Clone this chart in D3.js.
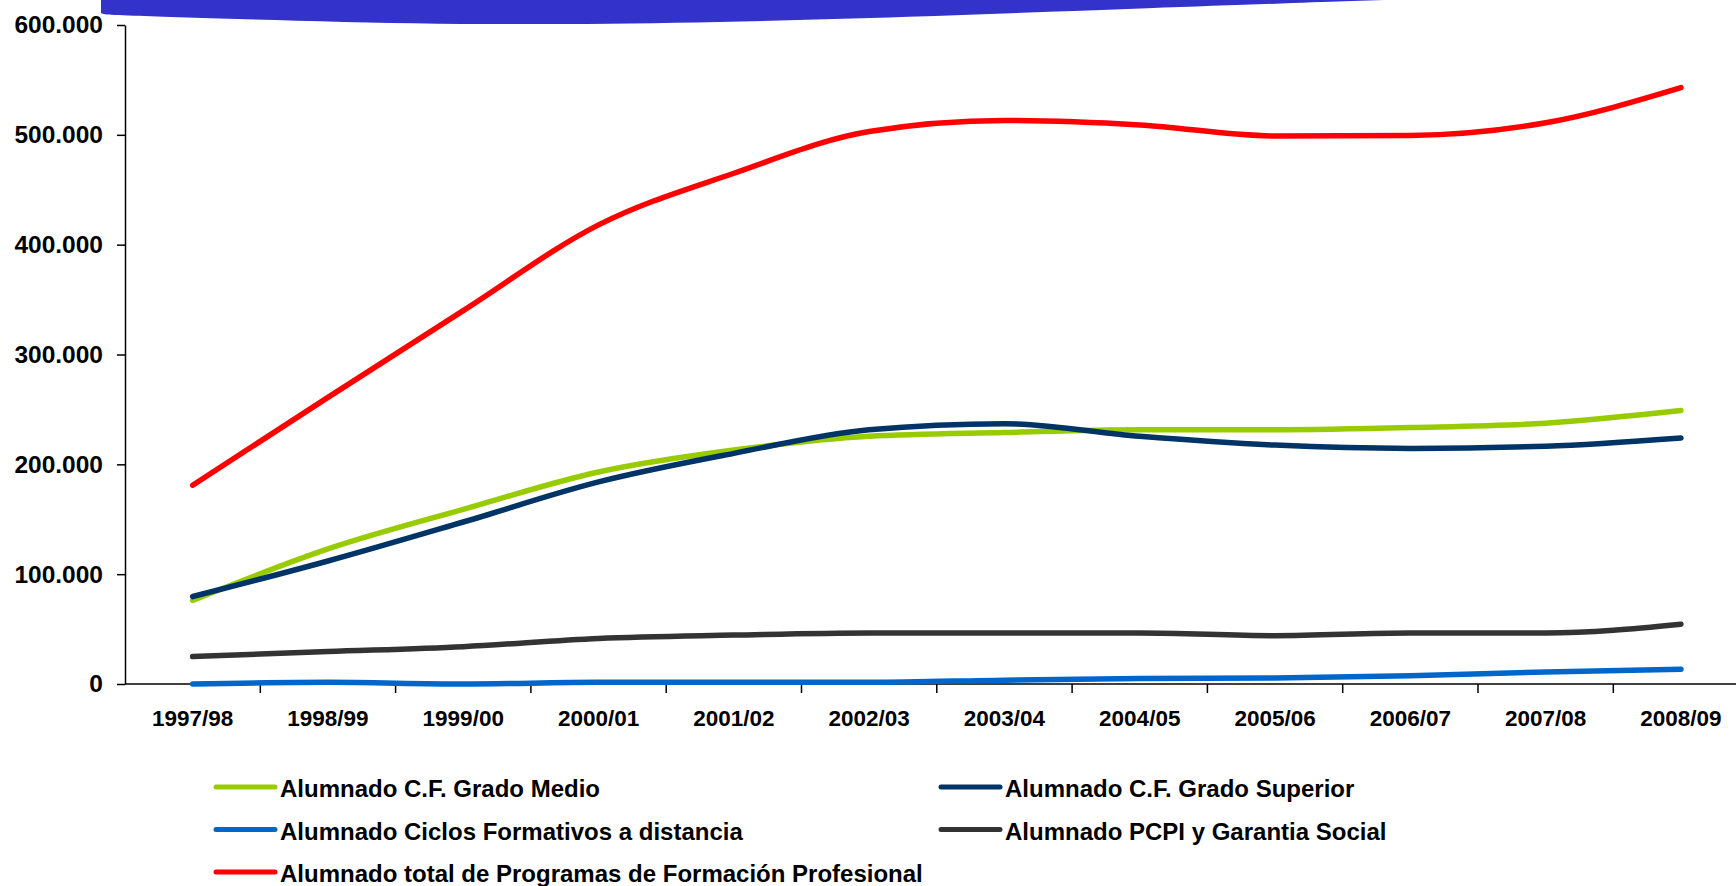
<!DOCTYPE html>
<html>
<head>
<meta charset="utf-8">
<script src="https://cdn.jsdelivr.net/npm/d3@7"></script>
<style>
    html, body { margin: 0; padding: 0; background: #fff; }
    svg { display: block; }
    text { font-family: "Liberation Sans", Arial, sans-serif; font-weight: bold; fill: #000; }
</style>
</head>
<body>
<svg id="chart" width="1736" height="886"></svg>
<script>
// == Daten ==
// Kurse (Kategorien der x-Achse)
const COURSES = ['1997/98', '1998/99', '1999/00', '2000/01', '2001/02', '2002/03',
    '2003/04', '2004/05', '2005/06', '2006/07', '2007/08', '2008/09'];

// Werte (Alumnado), aus dem Bild geschätzt
const GRADO_MEDIO = [76000, 123000, 159000, 193000, 213000, 225500, 229000, 231500, 231500, 233500, 237500, 249000];
const GRADO_SUPERIOR = [79600, 112000, 147500, 184000, 210000, 231500, 237000, 225500, 217500, 214500, 216500, 224000];
const DISTANCIA = [0, 1500, 0, 1500, 1500, 1500, 3500, 5000, 5500, 7500, 11000, 13500];
const PCPI = [25000, 29500, 34000, 41500, 44500, 46500, 46500, 46500, 44000, 46500, 46500, 54500];
const TOTAL = [181000, 261000, 340000, 418000, 465000, 503000, 513000, 509000, 499000, 499500, 511000, 543000];

// Beschriftung der y-Achse
const Y_TICKS = [0, 100000, 200000, 300000, 400000, 500000, 600000];

// Serien: Name, Werte, Farbe (Reihenfolge = Zeichenreihenfolge)
const SERIES = [
    {name: 'Alumnado C.F. Grado Medio', values: GRADO_MEDIO, color: '#99cc00'},
    {name: 'Alumnado C.F. Grado Superior', values: GRADO_SUPERIOR, color: '#003366'},
    {name: 'Alumnado Ciclos Formativos a distancia', values: DISTANCIA, color: '#0066cc'},
    {name: 'Alumnado PCPI y Garantia Social', values: PCPI, color: '#333333'},
    {name: 'Alumnado total de Programas de Formación Profesional', values: TOTAL, color: '#ff0000'}
];

// == Layout ==
const AXIS_X = 125;
const BAND = 135.3;
const Y_BOTTOM = 684;
const Y_TOP = 25;

const svg = d3.select('#chart');

// Blaues Band oben (Deko aus der Vorlage)
const bannerLine = d3.line().curve(d3.curveBasis);
svg.append('path')
    .attr('d', bannerLine([[101, 0], [101, 14], [101, 15], [300, 21], [480, 25], [700, 23], [900, 17.5], [1150, 8], [1384, 0]]) + 'Z')
    .attr('fill', '#3333cc');

// Skalen
const x = d3.scaleBand()
    .domain(COURSES)
    .range([AXIS_X, AXIS_X + COURSES.length * BAND]);
const y = d3.scaleLinear()
    .domain([0, 600000])
    .range([Y_BOTTOM, Y_TOP]);

// Zahlenformat mit Punkt als Tausendertrenner
const locale = d3.formatLocale({decimal: ',', thousands: '.', grouping: [3], currency: ['', ' €']});
const fmt = locale.format(',');

// y-Achse
const yAxis = svg.append('g')
    .attr('transform', `translate(${AXIS_X},0)`)
    .call(d3.axisLeft(y).tickValues(Y_TICKS).tickFormat(fmt).tickSize(8).tickSizeOuter(0).tickPadding(14));
yAxis.select('.domain').attr('stroke', '#000').attr('stroke-width', 1.5);
yAxis.selectAll('.tick line').attr('stroke', '#000').attr('stroke-width', 1.5);
yAxis.selectAll('.tick text')
    .attr('font-size', 24.5)
    .attr('font-family', '"Liberation Sans", Arial, sans-serif')
    .attr('font-weight', 'bold')
    .attr('fill', '#000');

// x-Achse: Linie + Striche an den Kategoriegrenzen
const xAxis = svg.append('g');
xAxis.append('line')
    .attr('x1', x.range()[0]).attr('x2', x.range()[1])
    .attr('y1', y(0)).attr('y2', y(0))
    .attr('stroke', '#000').attr('stroke-width', 1.5);
xAxis.selectAll('line.tick')
    .data(COURSES.slice(1).concat(['__end']))
    .enter()
    .append('line')
    .attr('class', 'tick')
    .attr('x1', d => d === '__end' ? x.range()[1] : x(d))
    .attr('x2', d => d === '__end' ? x.range()[1] : x(d))
    .attr('y1', y(0)).attr('y2', y(0) + 9)
    .attr('stroke', '#000').attr('stroke-width', 1.5);

// Beschriftung der Kurse
const xLabels = svg.append('g')
    .attr('transform', `translate(0,${y(0)})`)
    .call(d3.axisBottom(x).tickSize(0).tickPadding(26));
xLabels.select('.domain').remove();
xLabels.selectAll('.tick text')
    .attr('font-size', 22.5)
    .attr('font-family', '"Liberation Sans", Arial, sans-serif')
    .attr('font-weight', 'bold')
    .attr('fill', '#000');

// Linien
const line = d3.line()
    .x((d, i) => x(COURSES[i]) + x.bandwidth() / 2)
    .y(d => y(d))
    .curve(d3.curveMonotoneX);

svg.append('g')
    .selectAll('path')
    .data(SERIES)
    .enter()
    .append('path')
    .attr('d', d => line(d.values))
    .attr('fill', 'none')
    .attr('stroke', d => d.color)
    .attr('stroke-width', 5.5)
    .attr('stroke-linecap', 'round')
    .attr('stroke-linejoin', 'round');

// == Legende ==
// zwei Spalten, drei Zeilen
const LEGEND_COLS = [216, 941];
const LEGEND_ROWS = [797, 839.5, 882];
const legend = svg.append('g')
    .selectAll('g')
    .data(SERIES)
    .enter()
    .append('g')
    .attr('transform', (d, i) => `translate(${LEGEND_COLS[i % 2]},${LEGEND_ROWS[Math.floor(i / 2)]})`);
legend.append('line')
    .attr('x1', 0).attr('x2', 59)
    .attr('y1', -10).attr('y2', -10)
    .attr('stroke', d => d.color)
    .attr('stroke-width', 5)
    .attr('stroke-linecap', 'round');
legend.append('text')
    .attr('x', 64)
    .attr('font-size', 24)
    .text(d => d.name);
</script>
</body>
</html>
